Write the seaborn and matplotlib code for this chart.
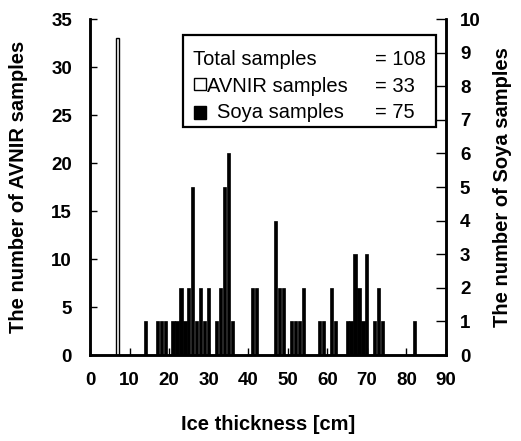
import numpy as np
import pandas as pd
import matplotlib
matplotlib.use("Agg")
import matplotlib.pyplot as plt
import seaborn as sns
from matplotlib.patches import Rectangle

# ---- data ----
avnir_thickness = [7]
avnir_counts = [33]

soya_thickness = [14, 17, 18, 19, 21, 22, 23, 24, 25, 26, 27, 28, 29, 30, 32, 33, 34, 35, 36,
                  41, 42, 47, 48, 49, 51, 52, 53, 54, 58, 59, 61, 62, 65, 66, 67, 68, 69, 70,
                  72, 73, 74, 82]
soya_counts = [1, 1, 1, 1, 1, 1, 2, 1, 2, 5, 1, 2, 1, 2, 1, 2, 5, 6, 1,
               2, 2, 4, 2, 2, 1, 1, 1, 2, 1, 1, 2, 1, 1, 1, 3, 2, 1, 3,
               1, 2, 1, 1]

x_ticks = [0, 10, 20, 30, 40, 50, 60, 70, 80, 90]
left_ticks = [0, 5, 10, 15, 20, 25, 30, 35]
right_ticks = list(range(0, 11))

legend_labels = ["Total samples", "AVNIR samples", "Soya samples"]
legend_values = ["= 108", "= 33", "= 75"]

# ---- style ----
sns.set_style("ticks")
plt.rcParams["font.family"] = ["Liberation Sans", "DejaVu Sans"]
plt.rcParams["text.color"] = "black"
plt.rcParams["axes.labelcolor"] = "black"
plt.rcParams["xtick.color"] = "black"
plt.rcParams["ytick.color"] = "black"
plt.rcParams["axes.edgecolor"] = "black"

W, H = 521, 441
fig = plt.figure(figsize=(W / 100, H / 100), dpi=100)
ax_l, ax_r, ax_b, ax_t = 90, 446, 355, 19
ax = fig.add_axes([ax_l / W, 1 - ax_b / H, (ax_r - ax_l) / W, (ax_b - ax_t) / H])
ax2 = ax.twinx()

df_a = pd.DataFrame({"x": avnir_thickness, "y": avnir_counts})
df_s = pd.DataFrame({"x": soya_thickness, "y": soya_counts})

sns.barplot(data=df_a, x="x", y="y", native_scale=True, ax=ax, color="white",
            edgecolor="black", linewidth=1.0, errorbar=None, saturation=1, width=0.8)
sns.barplot(data=df_s, x="x", y="y", native_scale=True, ax=ax2, color="black",
            edgecolor="black", linewidth=0.5, errorbar=None, saturation=1, width=0.8)

for a in (ax, ax2):
    a.set_xlim(0, 90)
    for s in ["left", "right", "bottom"]:
        a.spines[s].set_linewidth(1.8)
        a.spines[s].set_color("black")
    a.spines["top"].set_visible(False)

ax.set_ylim(0, 35)
ax2.set_ylim(0, 10)
ax.set_xticks(x_ticks)
ax.set_xticklabels([str(v) for v in x_ticks])
ax.set_yticks(left_ticks)
ax.set_yticklabels([str(v) for v in left_ticks])
ax2.set_yticks(right_ticks)
ax2.set_yticklabels([str(v) for v in right_ticks])

ax.tick_params(axis="x", direction="in", length=5, width=1, pad=12, labelsize=13.5,
               colors="black")
ax.tick_params(axis="y", direction="in", length=5, width=1, pad=13, labelsize=13.5,
               colors="black")
ax2.tick_params(axis="y", direction="in", length=7, width=1, pad=10, labelsize=13.5,
                colors="black")
for lab in ax.get_xticklabels() + ax.get_yticklabels() + ax2.get_yticklabels():
    lab.set_fontweight("bold")

ax.set_xlabel("Ice thickness [cm]", fontsize=14.5, fontweight="bold", color="black")
ax.xaxis.label.set_va("center")
ax.xaxis.set_label_coords(0.5, (ax_b - 425) / (ax_b - ax_t))
ax.set_ylabel("The number of AVNIR samples", fontsize=14.5, fontweight="bold", color="black")
ax.yaxis.label.set_va("center")
ax.yaxis.set_label_coords((19 - ax_l) / (ax_r - ax_l), 0.5)
ax2.set_ylabel("The number of Soya samples", fontsize=14.5, fontweight="bold",
               rotation=90, color="black")
ax2.yaxis.label.set_va("center")
ax2.yaxis.set_label_coords((503 - ax_l) / (ax_r - ax_l), 0.5)

# ---- legend box (drawn manually) ----
def fx(px):
    return px / W

def fy(py):
    return 1 - py / H

box = Rectangle((fx(183), fy(127)), fx(436) - fx(183), fy(35) - fy(127),
                transform=fig.transFigure, facecolor="white", edgecolor="black",
                linewidth=1.6, zorder=5)
fig.patches.append(box)

baselines = [65, 91.5, 118]
label_x = [193, 207, 217]
for lab, val, bl, lx in zip(legend_labels, legend_values, baselines, label_x):
    fig.text(fx(lx), fy(bl), lab, fontsize=14.5, va="baseline", ha="left", zorder=6,
             color="black")
    fig.text(fx(375), fy(bl), val, fontsize=14.5, va="baseline", ha="left", zorder=6,
             color="black")

sq_open = Rectangle((fx(193.5), fy(90)), fx(12), fy(0) - fy(12),
                    transform=fig.transFigure, facecolor="white", edgecolor="black",
                    linewidth=1.0, zorder=6)
sq_fill = Rectangle((fx(194), fy(119)), fx(12), fy(0) - fy(12.5),
                    transform=fig.transFigure, facecolor="black", edgecolor="black",
                    linewidth=1.0, zorder=6)
fig.patches.append(sq_open)
fig.patches.append(sq_fill)

fig.savefig("out.png", dpi=100)
